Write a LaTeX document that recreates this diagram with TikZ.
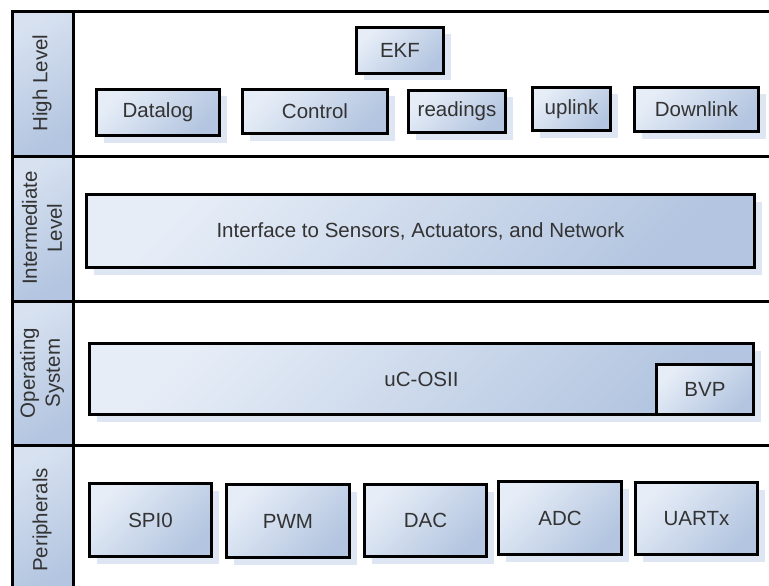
\documentclass[tikz,border=0pt]{standalone}
\usepackage{fontspec}
\setmainfont{Liberation Sans}
\usetikzlibrary{shadows}
\definecolor{boxlight}{HTML}{E6EDF7}
\definecolor{boxdark}{HTML}{B3C5E0}
\definecolor{shadowblue}{HTML}{DDE6F2}
\definecolor{textgrey}{HTML}{333333}

\begin{document}
\begin{tikzpicture}[x=1pt,y=-1pt,
    layer/.style={draw,line width=3pt,top color=boxlight,bottom color=boxdark,shading angle=45,
      drop shadow={shadow xshift=7pt,shadow yshift=-7pt,fill=shadowblue,opacity=1},
      text=textgrey,font=\fontsize{20.5}{24}\selectfont,inner sep=0},
    cell/.style={top color=boxlight!70!boxdark,bottom color=boxdark,shading angle=30},
    tag/.style={rotate=90,align=center,text=textgrey,inner sep=0,font=\fontsize{20.5}{25}\selectfont}]
  \clip (0,0) rectangle (769,586);
  % left column and frame
  \foreach \y/\h in {12/144,156/145,301/144,445/150}
    \shade[cell] (12,\y) rectangle (73,\y+\h);
  \draw[line width=3pt] (12,600) -- (12,12) -- (780,12);
  \draw[line width=3pt] (73,600) -- (73,12);
  \foreach \y in {156,301,445}
    \draw[line width=3pt] (12,\y) -- (780,\y);
  \node[tag] (high) at (42,83) {High Level};
  \node[tag] (inter) at (42,228) {Intermediate\\Level};
  \node[tag] (os) at (42,373) {Operating\\System};
  \node[tag] (peri) at (42,520) {Peripherals};
  % high level
  \node[layer,minimum width=87,minimum height=46] (ekf) at (400,50.5) {EKF};
  \node[layer,minimum width=123,minimum height=46] (datalog) at (158,112.5) {Datalog};
  \node[layer,minimum width=145,minimum height=44] (control) at (315,111.5) {Control};
  \node[layer,minimum width=97,minimum height=42] (readings) at (457,111.5) {readings};
  \node[layer,minimum width=78,minimum height=43] (uplink) at (571.5,109) {uplink};
  \node[layer,minimum width=124,minimum height=44] (downlink) at (696.5,109.5) {Downlink};
  % intermediate level
  \node[layer,minimum width=668,minimum height=73] (iface) at (420.5,231) {Interface to Sensors, Actuators, and Network};
  % operating system
  \node[layer,minimum width=664,minimum height=71] (ucos) at (421.5,379) {uC-OSII};
  \node[layer,minimum width=97,minimum height=50] (bvp) at (705,389.5) {BVP};
  % peripherals
  \node[layer,minimum width=122,minimum height=73] (spi) at (150.5,520) {SPI0};
  \node[layer,minimum width=123,minimum height=73] (pwm) at (288,521) {PWM};
  \node[layer,minimum width=122,minimum height=72] (dac) at (425.5,520.5) {DAC};
  \node[layer,minimum width=123,minimum height=73] (adc) at (560,518) {ADC};
  \node[layer,minimum width=122,minimum height=72] (uart) at (696.5,518.5) {UARTx};
\end{tikzpicture}
\end{document}
